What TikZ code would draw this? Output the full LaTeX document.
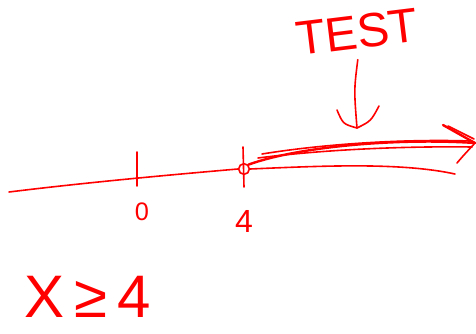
\documentclass[tikz,border=0pt]{standalone}
\usepackage{fontspec}
\setmainfont{Liberation Sans}
\begin{document}
\begin{tikzpicture}[x=0.75pt,y=-0.75pt,
  pen/.style={draw=red,line width=1.2pt,line cap=round,line join=round},
  heavy/.style={pen,line width=1.8pt},
  lbl/.style={text=red,inner sep=0pt}]
\useasboundingbox (0,0) rectangle (476,333);
% number line
\coordinate (L) at (9,192);
\coordinate (R) at (455,174);
\node[pen,circle,minimum size=8pt,inner sep=0pt] (open) at (244,169) {};
\draw[pen] (L) .. controls (90,182) and (180,174) .. (open.west);
\draw[pen] (open.east) .. controls (320,166) and (400,162) .. (R);
% ticks
\coordinate (t0a) at (137,152);
\coordinate (t0b) at (137,186);
\draw[pen] (t0a) -- (t0b);
\coordinate (t4a) at (243,147);
\coordinate (t4b) at (244,187);
\draw[pen] (t4a) -- (t4b);
% tick labels
\node[lbl,font=\fontsize{19}{22}\selectfont] (n0) at (142,212) {0};
\node[lbl,font=\fontsize{24}{28}\selectfont] (n4) at (244,221) {4};
% thick arrow to the right
\coordinate (tip) at (475,143);
\draw[heavy] (open.north east) .. controls (300,146) and (400,138) .. (tip);
\draw[pen] (258,158) .. controls (320,150) and (400,146) .. (472,147);
\draw[pen] (262,154) .. controls (330,143) and (410,139) .. (470,141);
\draw[heavy] (443,125) -- (tip);
\draw[pen] (448,126) -- (474,139);
\draw[pen] (457,163) .. controls (463,156) .. (tip);
% TEST label and down arrow
\node[lbl,font=\fontsize{36}{40}\selectfont,rotate=7] (test) at (357,32) {TEST};
\coordinate (dtip) at (357,128);
\draw[pen,shorten <=8pt] (test.south) .. controls (354,90) .. (dtip);
\draw[pen] (337,110) .. controls (343,124) .. (dtip) .. controls (371,121) .. (379,106);
% inequality
\node[lbl,font=\fontsize{45}{52}\selectfont] (ineq) at (88,297) {X\,≥\,4};
\end{tikzpicture}
\end{document}
